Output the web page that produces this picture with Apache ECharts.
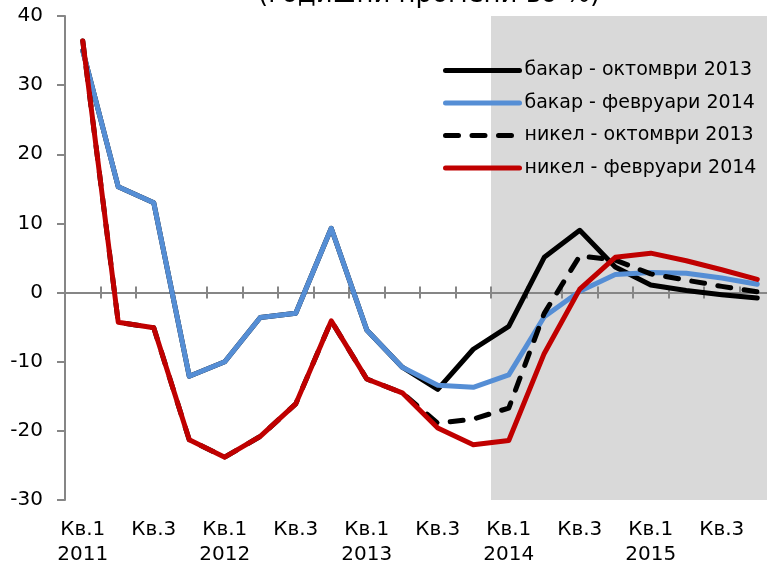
<!DOCTYPE html>
<html>
<head>
<meta charset="utf-8">
<script src="https://cdn.jsdelivr.net/npm/echarts@6/dist/echarts.min.js"></script>
<style>
    html, body { margin: 0; padding: 0; background: #fff; }
    #chart { width: 767px; height: 565px; }
</style>
</head>
<body>
<div id="chart"></div>
<script>
"use strict";
// quarters Q1 2011 - Q4 2015
var quarters = [
    "Кв.1\n2011", "Кв.2", "Кв.3", "Кв.4",
    "Кв.1\n2012", "Кв.2", "Кв.3", "Кв.4",
    "Кв.1\n2013", "Кв.2", "Кв.3", "Кв.4",
    "Кв.1\n2014", "Кв.2", "Кв.3", "Кв.4",
    "Кв.1\n2015", "Кв.2", "Кв.3", "Кв.4"
];
var seriesNames = [
    "бакар - октомври 2013",
    "бакар - февруари 2014",
    "никел - октомври 2013",
    "никел - февруари 2014"
];
var copperOct2013 = [35.0, 15.3, 13.0, -12.1, -10.0, -3.6, -3.0, 9.3, -5.4, -10.8,
    -14.0, -8.2, -4.9, 5.1, 9.0, 3.7, 1.1, 0.3, -0.3, -0.8];
var copperFeb2014 = [35.0, 15.3, 13.0, -12.1, -10.0, -3.6, -3.0, 9.3, -5.4, -10.8,
    -13.4, -13.7, -11.9, -3.5, 0.2, 2.6, 2.9, 2.8, 2.1, 1.2];
var nickelOct2013 = [36.4, -4.3, -5.1, -21.3, -23.8, -20.8, -16.1, -4.1, -12.5, -14.5,
    -18.9, -18.3, -16.7, -3.0, 5.3, 4.7, 2.7, 1.8, 0.9, 0.1];
var nickelFeb2014 = [36.4, -4.3, -5.1, -21.3, -23.8, -20.8, -16.1, -4.1, -12.5, -14.5,
    -19.6, -22.0, -21.4, -8.8, 0.5, 5.1, 5.7, 4.6, 3.3, 1.9];
// projection area starts at Q1 2014 (band index 12)
var forecastStart = 12;

var font = "DejaVu Sans";
var axisGray = "#868686";
var dash = [13, 13.5];

var chart = echarts.init(document.getElementById("chart"), null, {renderer: "canvas"});

function lineSeries(name, data, color, dashed) {
    return {
        name: name,
        type: "line",
        data: data,
        xAxisIndex: 0,
        yAxisIndex: 0,
        symbol: "none",
        z: 3,
        animation: false,
        lineStyle: {
            color: color,
            width: 5,
            type: dashed ? dash : "solid",
            cap: "round",
            join: "round"
        },
        itemStyle: {color: color}
    };
}

var options = {
    animation: false,
    title: {
        text: "(годишни промени во %)",
        left: 253,
        top: -23,
        textStyle: {fontFamily: font, fontSize: 26, fontWeight: "normal", color: "#000"}
    },
    legend: {
        orient: "vertical",
        left: 443,
        top: 61,
        padding: 0,
        itemWidth: 74,
        itemHeight: 20,
        itemGap: 13.5,
        data: seriesNames,
        itemStyle: {opacity: 0},
        lineStyle: {width: 5},
        textStyle: {fontFamily: font, fontSize: 19, color: "#000"}
    },
    grid: {
        left: 65,
        width: 710,
        top: 16,
        bottom: 65,
        outerBoundsMode: "none",
        containLabel: false
    },
    xAxis: [
        {
            // labels at the bottom
            type: "category",
            data: quarters,
            position: "bottom",
            boundaryGap: true,
            axisLine: {show: false, onZero: false},
            axisTick: {show: false},
            axisLabel: {
                interval: 1,
                margin: 17,
                fontFamily: font,
                fontSize: 20,
                lineHeight: 25,
                color: "#000"
            },
            splitLine: {show: false}
        },
        {
            // zero line with ticks pointing down
            type: "category",
            data: quarters,
            position: "bottom",
            z: 2,
            axisLine: {show: true, onZero: true, onZeroAxisIndex: 0, lineStyle: {color: axisGray, width: 2}},
            axisTick: {show: true, length: 6, lineStyle: {color: axisGray, width: 2}},
            axisLabel: {show: false},
            splitLine: {show: false}
        },
        {
            // ticks pointing up from the zero line
            type: "category",
            data: quarters,
            position: "top",
            z: 2,
            axisLine: {show: false, onZero: true, onZeroAxisIndex: 1},
            axisTick: {show: true, length: 6, lineStyle: {color: axisGray, width: 2}},
            axisLabel: {show: false},
            splitLine: {show: false}
        },
        {
            // helper axis for the shaded projection area
            type: "value",
            min: 0,
            max: quarters.length,
            show: false
        }
    ],
    yAxis: [
        {
            type: "value",
            min: -30,
            max: 40,
            interval: 10,
            axisLine: {show: true, onZero: false, lineStyle: {color: axisGray, width: 2}},
            axisTick: {show: true, length: 8, lineStyle: {color: axisGray, width: 2}},
            axisLabel: {margin: 22, fontFamily: font, fontSize: 20, color: "#000"},
            splitLine: {show: false}
        },
        {
            // twin of the main axis, only used to place the upward ticks
            type: "value",
            min: -30,
            max: 40,
            interval: 10,
            show: false,
            axisLine: {onZero: false}
        }
    ],
    series: [
        {
            name: "shade",
            type: "line",
            xAxisIndex: 3,
            yAxisIndex: 0,
            data: [[forecastStart, 0]],
            symbol: "none",
            lineStyle: {opacity: 0},
            silent: true,
            markArea: {
                silent: true,
                z: 1,
                itemStyle: {color: "#d9d9d9"},
                data: [[{xAxis: forecastStart}, {xAxis: quarters.length}]]
            }
        },
        lineSeries(seriesNames[0], copperOct2013, "#000000", false),
        lineSeries(seriesNames[1], copperFeb2014, "#558ed5", false),
        lineSeries(seriesNames[2], nickelOct2013, "#000000", true),
        lineSeries(seriesNames[3], nickelFeb2014, "#c00000", false)
    ]
};

chart.setOption(options);
</script>
</body>
</html>
